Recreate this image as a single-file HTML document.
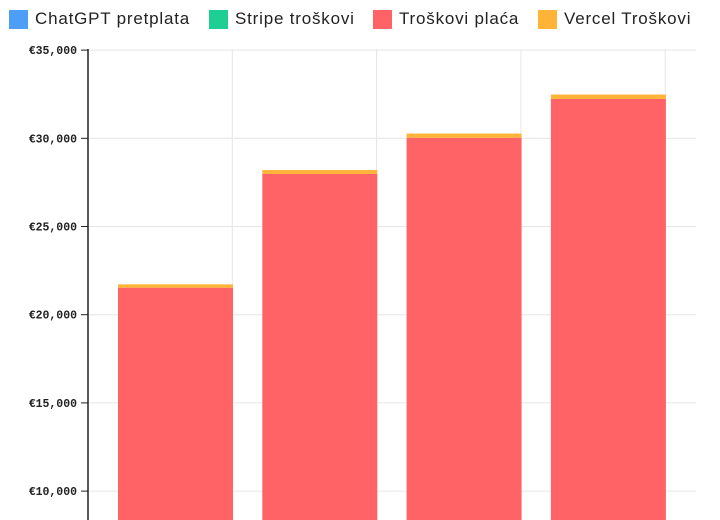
<!DOCTYPE html>
<html><head><meta charset="utf-8"><style>
html,body{margin:0;background:#fff;width:720px;height:520px;overflow:hidden;font-family:"Liberation Sans",sans-serif}
.leg{position:absolute;top:9px;height:20px;display:flex;align-items:center;font-size:17px;letter-spacing:0.8px;color:#222;white-space:nowrap}
.sw{width:19px;height:19px;margin-right:7px}
</style></head><body>
<div>
<div class="leg" style="left:9px"><div class="sw" style="background:#4d9ef7"></div>ChatGPT pretplata</div>
<div class="leg" style="left:209px"><div class="sw" style="background:#1ecf93"></div>Stripe troškovi</div>
<div class="leg" style="left:373px"><div class="sw" style="background:#ff6366"></div>Troškovi plaća</div>
<div class="leg" style="left:538px"><div class="sw" style="background:#ffb337"></div>Vercel Troškovi</div>
</div>
<svg id="c" width="720" height="520" style="position:absolute;left:0;top:0;display:block"></svg>
<script>
const categories=["M1","M2","M3","M4"];
const chatgpt=[20,20,20,20];
const stripe=[10,10,10,10];
const salaries=[21500,27950,30000,32200];
const vercel=[190,220,240,250];
const ticks=[10000,15000,20000,25000,30000,35000];
const tickLabels=["€10,000","€15,000","€20,000","€25,000","€30,000","€35,000"];
const ns="http://www.w3.org/2000/svg",svg=document.getElementById('c');
const y=v=>667.5-v*0.01764;
const bandX=i=>88+i*144.3;
function mk(t,a){const e=document.createElementNS(ns,t);for(const k in a)e.setAttribute(k,a[k]);svg.appendChild(e);return e;}
ticks.forEach((t,i)=>{
 const g=mk('line',{x1:88,x2:696,y1:y(t),y2:y(t),stroke:'#e6e6e6'});
 
 
 const tk=mk('line',{x1:81,x2:88,y1:y(t),y2:y(t),stroke:'#222'});
 
 
 const tx=mk('text',{x:77,y:y(t)+4,'text-anchor':'end','font-size':'11.5','font-family':'Liberation Mono, monospace','font-weight':'bold',fill:'#222'});
 tx.textContent=tickLabels[i];
 
 
});
categories.forEach((c,i)=>{
 const gx=bandX(i+1);
 const g=mk('line',{x1:gx,x2:gx,y1:49,y2:520,stroke:'#e6e6e6'});
 
 
});
const series=[[chatgpt,'#4d9ef7','chatgpt'],[stripe,'#1ecf93','stripe'],[salaries,'#ff6366','salaries'],[vercel,'#ffb337','vercel']];
categories.forEach((c,i)=>{
 let base=0;const x0=bandX(i)+30,w=115;
 series.forEach(([arr,col,nm])=>{
  const top=base+arr[i];
  const y0=Math.min(520,y(base));
  const r=mk('rect',{x:x0,y:y(top),width:w,height:Math.max(0,y0-y(top)),fill:col});
  
  
  base=top;
 });
});
const ax=mk('line',{x1:88,x2:88,y1:49,y2:520,stroke:'#222','stroke-width':1.5});


</script>
</body></html>
